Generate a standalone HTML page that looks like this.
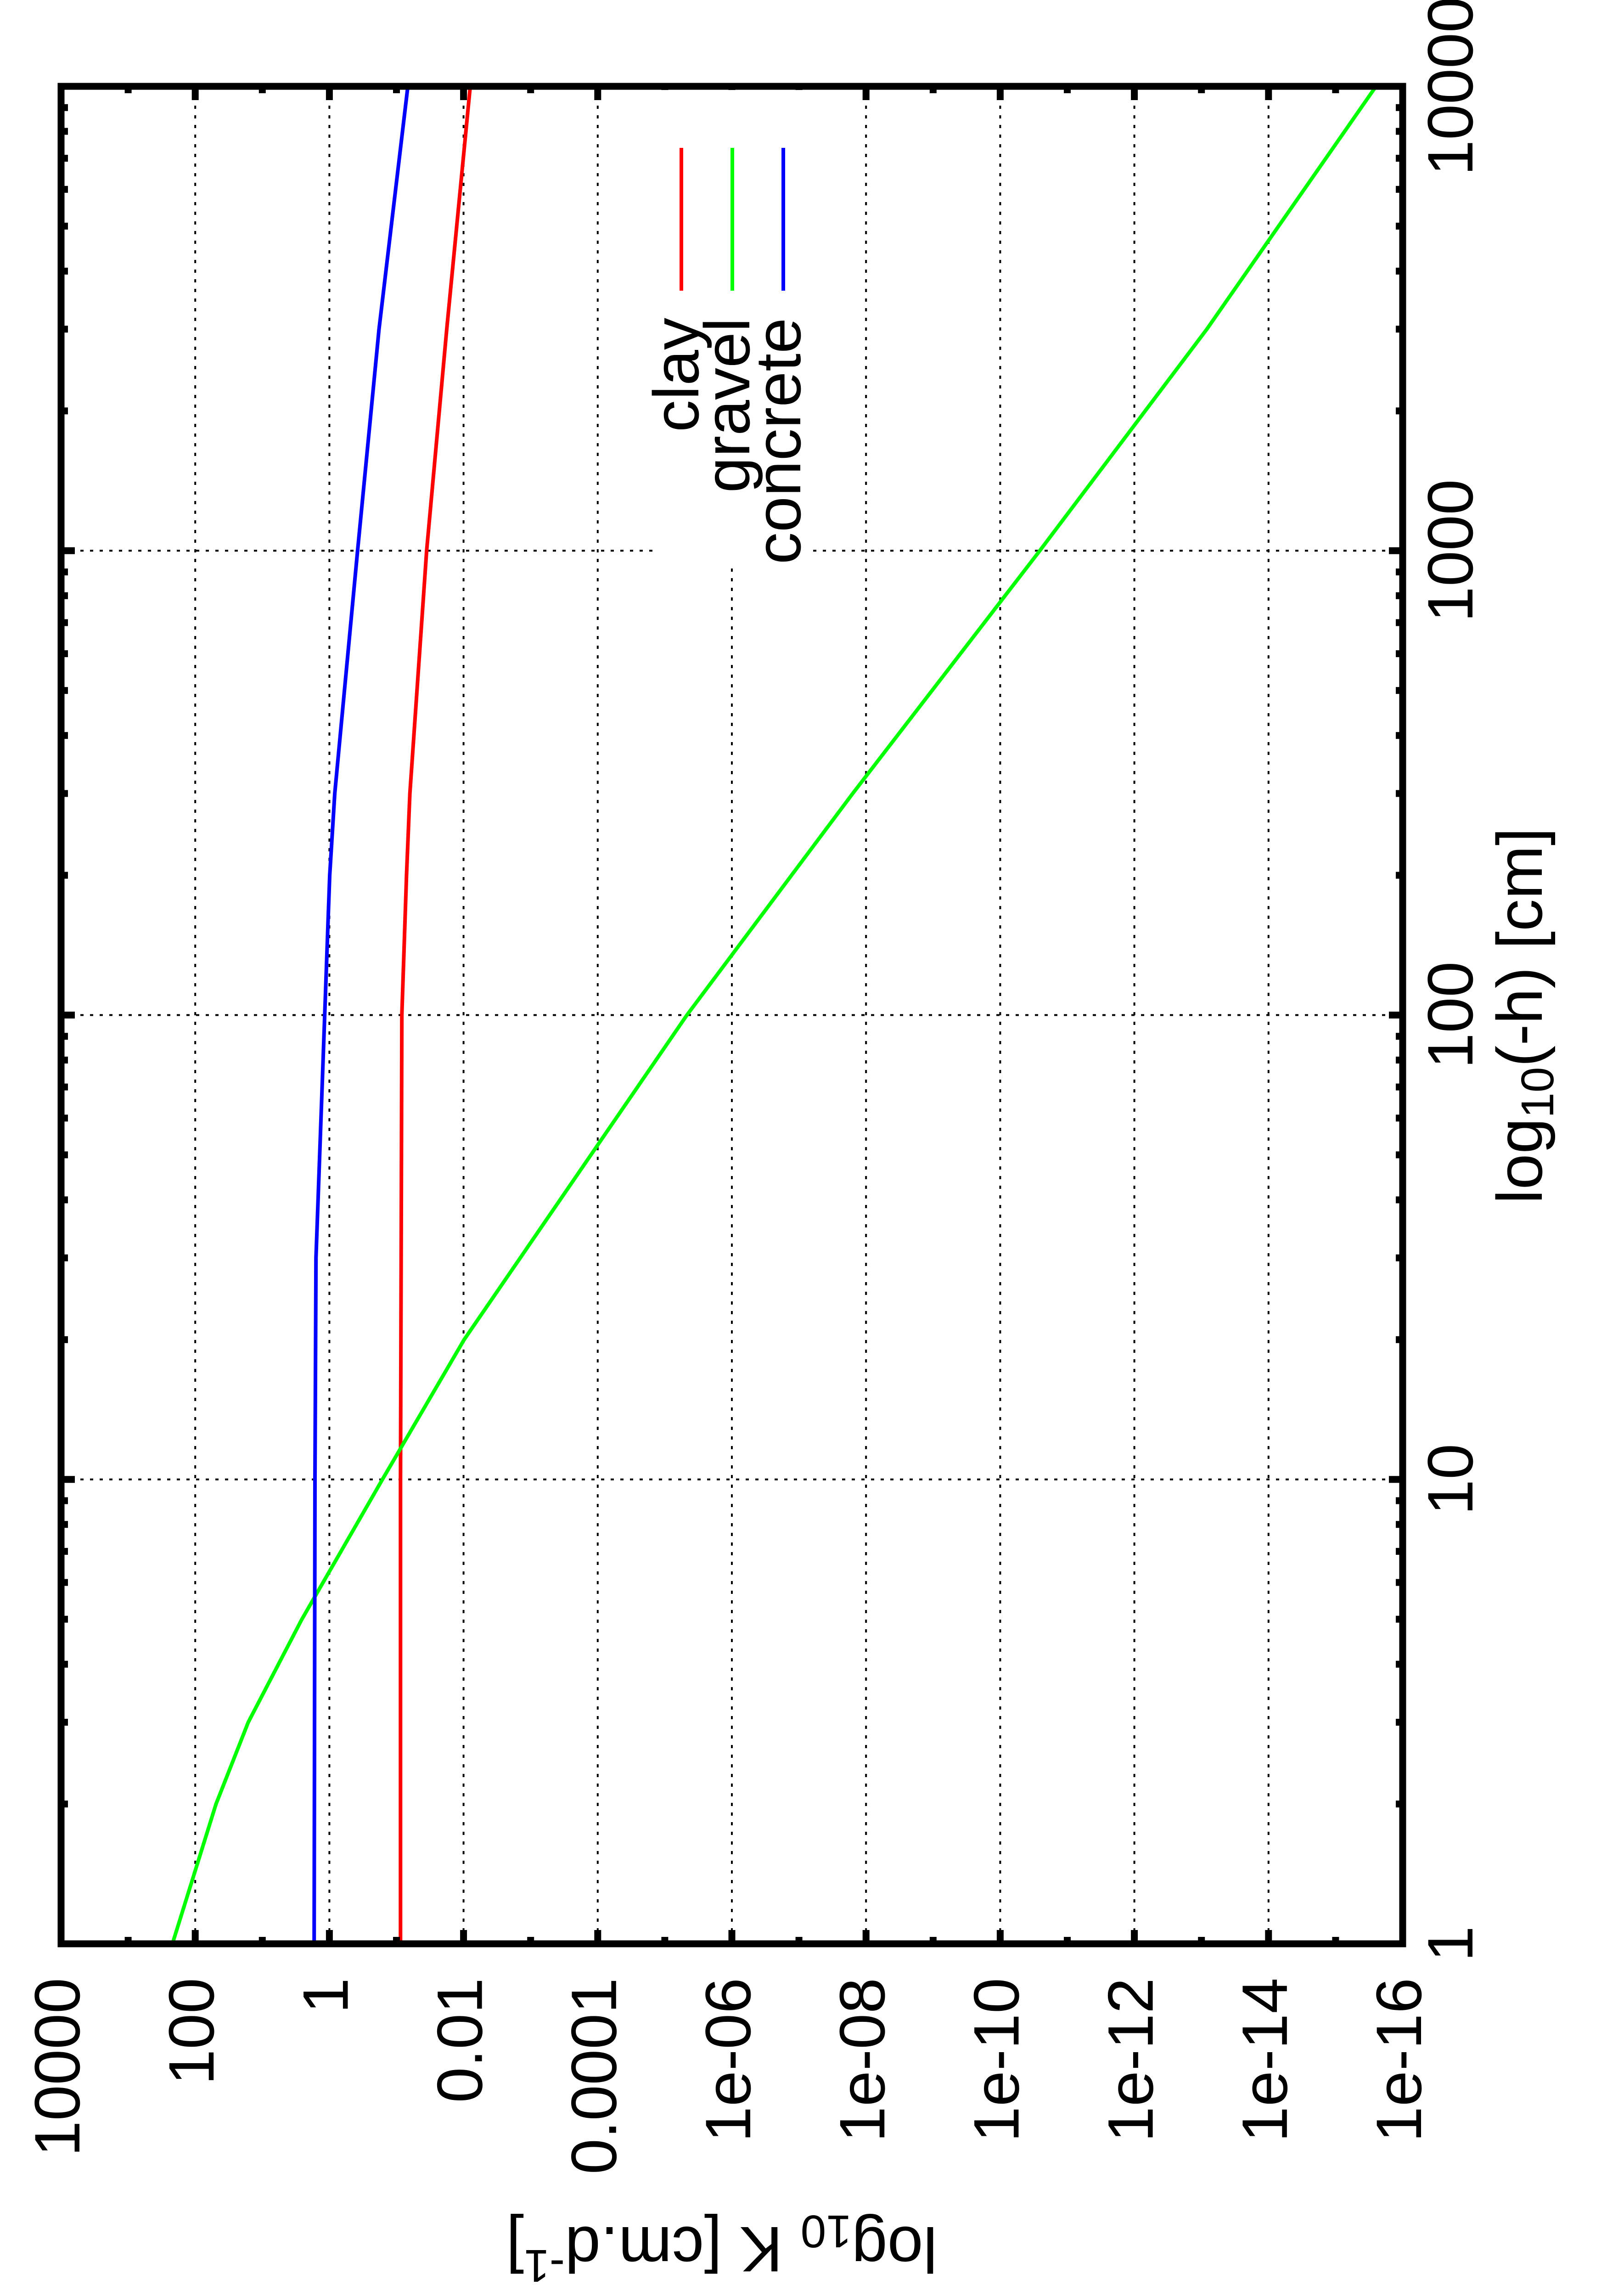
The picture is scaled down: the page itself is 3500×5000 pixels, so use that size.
<!DOCTYPE html>
<html><head><meta charset="utf-8">
<style>html,body{margin:0;padding:0;background:#fff}svg{display:block}</style>
</head><body>
<svg id="chart" width="3500" height="5000" viewBox="0 0 3500 5000" xmlns="http://www.w3.org/2000/svg" font-family="Liberation Sans, sans-serif">
<rect width="3500" height="5000" fill="#fff"/>
<g id="grid"></g><g id="series"></g><g id="ticks"></g><g id="labels"></g>
<rect x="1428" y="196" width="334" height="1036" fill="#fff"/>
<g id="legend"></g>
<rect x="133" y="188" width="2922" height="4045" fill="none" stroke="#000" stroke-width="15"/>
<text transform="translate(3358,2212) rotate(-90)" text-anchor="middle" font-size="140">log<tspan font-size="100" dy="25">10</tspan><tspan dy="-25">(-h) [cm]</tspan></text>
<text transform="translate(1572,4850) rotate(180)" text-anchor="middle" font-size="140">log<tspan font-size="100" dy="25">10</tspan><tspan dy="-25"> K [cm.d</tspan><tspan font-size="100" dy="-50">-1</tspan><tspan dy="50">]</tspan></text>
</svg>
<script>
const hValsA = [1,10,30,100,200,300,1000,3000,10000];
const clayK = [0.0871,0.0871,0.0851,0.0832,0.0708,0.0631,0.0355,0.0178,0.00794];
const concreteK = [1.687,1.641,1.585,1.175,0.989,0.832,0.380,0.182,0.0676];
const hValsG = [1,2,3,5,10,20,50,100,300,1000,3000,10000];
const gravelK = [219,49,16.2,2.57,0.162,0.0098,1.26e-4,4.68e-6,1.58e-8,2.57e-11,8.3e-14,2.5e-16];
const kTickLabels = ["10000","100","1","0.01","0.0001","1e-06","1e-08","1e-10","1e-12","1e-14","1e-16"];
const kTickExp = [4,2,0,-2,-4,-6,-8,-10,-12,-14,-16];
const hTickLabels = ["1","10","100","1000","10000"];
const hTickVals = [1,10,100,1000,10000];

const NS="http://www.w3.org/2000/svg";
const L=133,R=3055,T=188,B=4233;
function X(k){return L+(4-Math.log10(k))*(R-L)/20;}
function Y(h){return B-Math.log10(h)*(B-T)/4;}
function mk(tag,attrs,parent){const e=document.createElementNS(NS,tag);for(const a in attrs)e.setAttribute(a,attrs[a]);parent.appendChild(e);return e;}
const grid=document.getElementById('grid'),ticks=document.getElementById('ticks'),labels=document.getElementById('labels'),series=document.getElementById('series'),legend=document.getElementById('legend');

kTickExp.forEach((ex,i)=>{
  const x=X(Math.pow(10,ex));
  if(i>0&&i<kTickExp.length-1){
    const g=mk('line',{x1:x,x2:x,y1:T,y2:B,stroke:'#000','stroke-width':4,'stroke-dasharray':'7 14'},grid);
    
    
  }
  [[B,B-30],[T,T+30]].forEach(p=>{const t=mk('line',{x1:x,x2:x,y1:p[0],y2:p[1],stroke:'#000','stroke-width':15},ticks);
    
    });
  if(i<kTickExp.length-1){const xm=X(Math.pow(10,ex-1));
    [[B,B-15],[T,T+15]].forEach(p=>{const t=mk('line',{x1:xm,x2:xm,y1:p[0],y2:p[1],stroke:'#000','stroke-width':15},ticks);
      
      });}
  const tx=mk('text',{transform:`translate(${x+40},4307) rotate(-90)`,'text-anchor':'end','font-size':140},labels);
  tx.textContent=kTickLabels[i];
  
  
});
hTickVals.forEach((h,i)=>{
  const y=Y(h);
  if(i>0&&i<hTickVals.length-1){
    const g=mk('line',{x1:L,x2:R,y1:y,y2:y,stroke:'#000','stroke-width':4,'stroke-dasharray':'7 14'},grid);
    
    
  }
  [[L,L+30],[R,R-30]].forEach(p=>{const t=mk('line',{x1:p[0],x2:p[1],y1:y,y2:y,stroke:'#000','stroke-width':15},ticks);
    
    });
  if(i<hTickVals.length-1){for(let m=2;m<=9;m++){const ym=Y(h*m);
    [[L,L+15],[R,R-15]].forEach(p=>{const t=mk('line',{x1:p[0],x2:p[1],y1:ym,y2:ym,stroke:'#000','stroke-width':15},ticks);
      
      });}}
  const tx=mk('text',{transform:`translate(3207,${y}) rotate(-90)`,'text-anchor':'middle','font-size':140},labels);
  tx.textContent=hTickLabels[i];
  
  
});
function drawSeries(hs,ks,color,name){
  const d=hs.map((h,i)=>(i?'L':'M')+X(ks[i]).toFixed(1)+','+Y(h).toFixed(1)).join(' ');
  const p=mk('path',{d:d,fill:'none',stroke:color,'stroke-width':8,'stroke-linejoin':'round'},series);
  
  
}
drawSeries(hValsA,clayK,'#ff0000','clay');
drawSeries(hValsG,gravelK,'#00ff00','gravel');
drawSeries(hValsA,concreteK,'#0000ff','concrete');
[['clay','#ff0000',1484],['gravel','#00ff00',1595],['concrete','#0000ff',1706]].forEach(e=>{
  const l=mk('line',{x1:e[2],x2:e[2],y1:322,y2:633,stroke:e[1],'stroke-width':8},legend);
  
  
  const t=mk('text',{transform:`translate(${e[2]+37},692) rotate(-90)`,'text-anchor':'end','font-size':140},legend);
  t.textContent=e[0];
  
  
});
</script>
</body></html>
